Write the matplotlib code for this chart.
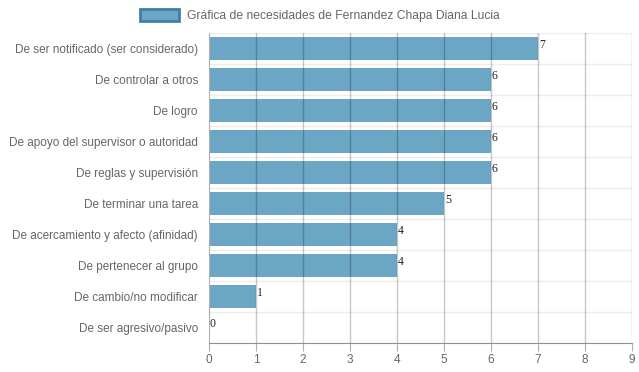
import matplotlib.pyplot as plt
import numpy as np
from matplotlib.patches import Patch

# data
categorias = ["De ser notificado (ser considerado)", "De controlar a otros", "De logro",
              "De apoyo del supervisor o autoridad", "De reglas y supervisión",
              "De terminar una tarea", "De acercamiento y afecto (afinidad)",
              "De pertenecer al grupo", "De cambio/no modificar", "De ser agresivo/pasivo"]
valores = [7, 6, 6, 6, 6, 5, 4, 4, 1, 0]
titulo = "Gráfica de necesidades de Fernandez Chapa Diana Lucia"

COLOR_BARRA = "#6ca6c5"
COLOR_BORDE = "#3d80a8"

plt.rcParams['font.family'] = ['Liberation Sans', 'DejaVu Sans']

fig = plt.figure(figsize=(6.39, 3.72), dpi=100)
ax = fig.add_axes([209/639, 1-343/372, (632-209)/639, 310/372])

y = np.arange(len(categorias))
barras = ax.barh(y, valores, height=0.72, color=COLOR_BARRA, zorder=2)

for b, v in zip(barras, valores):
    ax.text(b.get_width() + 0.02, b.get_y() + b.get_height()/2 - 0.1, str(v),
            ha='left', va='center', fontsize=8.5, family='Liberation Serif', color='#222222', zorder=4)

ax.set_xlim(0, 9)
ax.set_ylim(len(categorias) - 0.5, -0.5)
ax.set_xticks(range(10))
ax.set_yticks(y)
ax.set_yticklabels(categorias)

# gridlines
for xv in range(1, 10):
    ax.axvline(xv, color=(0, 0, 0, 0.22), lw=1, zorder=3)
for yv in np.arange(-0.5, len(categorias) - 0.5, 1):
    ax.axhline(yv, color=(0, 0, 0, 0.07), lw=1, zorder=1)

for s in ['top', 'right']:
    ax.spines[s].set_visible(False)
ax.spines['left'].set_color('#b0b0b0')
ax.spines['bottom'].set_color('#909090')
ax.tick_params(axis='x', colors='#666666', labelsize=8.5, length=6, color='#b0b0b0', pad=2)
ax.tick_params(axis='y', colors='#666666', labelsize=8.5, length=0, pad=8)

leyenda = [Patch(facecolor=COLOR_BARRA, edgecolor=COLOR_BORDE, linewidth=2, label=titulo)]
fig.legend(handles=leyenda, loc='upper center', bbox_to_anchor=(0.5, 1.005), frameon=False,
           fontsize=8.7, labelcolor='#666666', handlelength=3.3, handleheight=1.1, handletextpad=0.6)

fig.savefig("out.png", dpi=100)
